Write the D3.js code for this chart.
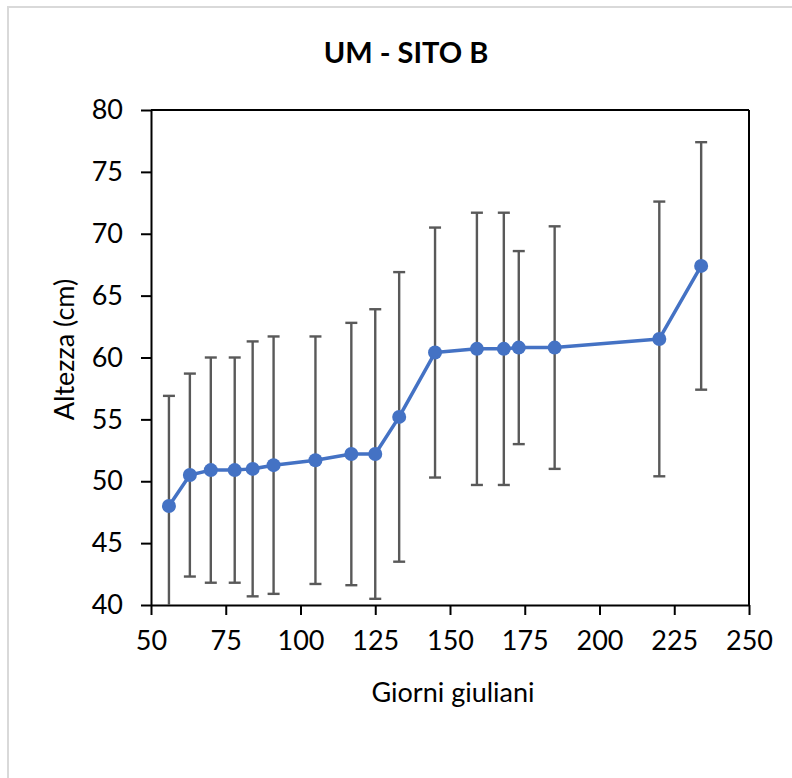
<!DOCTYPE html>
<html>
<head>
<meta charset="utf-8">
<script src="https://cdn.jsdelivr.net/npm/d3@7"></script>
<style>
  html, body { margin: 0; padding: 0; background: #fff; }
  svg { display: block; }
  text { font-family: Lato, "Open Sans", sans-serif; fill: #000; }
</style>
</head>
<body>
<script>
// ---- data ----
const days  = [56, 63, 70, 78, 84, 91, 105, 117, 125, 133, 145, 159, 168, 173, 185, 220, 234];
const meanHeight = [48.0, 50.5, 50.9, 50.9, 51.0, 51.3, 51.7, 52.2, 52.2, 55.2, 60.4, 60.7, 60.7, 60.8, 60.8, 61.5, 67.4];
const sdHeight   = [8.9, 8.2, 9.1, 9.1, 10.3, 10.4, 10.0, 10.6, 11.7, 11.7, 10.1, 11.0, 11.0, 7.8, 9.8, 11.1, 10.0];
const xTicks = [50, 75, 100, 125, 150, 175, 200, 225, 250];
const yTicks = [40, 45, 50, 55, 60, 65, 70, 75, 80];
const titleText = "UM - SITO B";
const xLabel = "Giorni giuliani";
const yLabel = "Altezza (cm)";

const W = 792, H = 778;
const plot = { left: 151, right: 749, top: 110, bottom: 605 };

const svg = d3.select("body").append("svg").attr("width", W).attr("height", H);

// outer chart border
svg.append("rect").attr("x", 8).attr("y", 7).attr("width", W + 10).attr("height", H + 10)
  .attr("fill", "#fff").attr("stroke", "#d9d9d9").attr("stroke-width", 2);

const x = d3.scaleLinear().domain([50, 250]).range([plot.left, plot.right]);
const y = d3.scaleLinear().domain([40, 80]).range([plot.bottom, plot.top]);

svg.append("defs").append("clipPath").attr("id", "clip")
  .append("rect").attr("x", plot.left).attr("y", plot.top)
  .attr("width", plot.right - plot.left).attr("height", plot.bottom - plot.top);

// title
svg.append("text").attr("x", 406).attr("y", 63).attr("text-anchor", "middle")
  .attr("font-size", 29).attr("font-weight", "bold").text(titleText);

// axes
const xAxis = d3.axisBottom(x).tickValues(xTicks).tickSize(10).tickPadding(16).tickSizeOuter(0);
const yAxis = d3.axisLeft(y).tickValues(yTicks).tickSize(10).tickPadding(18).tickSizeOuter(0);

const gx = svg.append("g").attr("transform", `translate(0,${plot.bottom})`).call(xAxis);
const gy = svg.append("g").attr("transform", `translate(${plot.left},0)`).call(yAxis);
[gx, gy].forEach(g => {
  g.select(".domain").attr("stroke", "#000").attr("stroke-width", 2);
  g.selectAll(".tick line").attr("stroke", "#000").attr("stroke-width", 2);
  g.selectAll(".tick text").attr("font-size", 27).attr("font-family", "Lato, 'Open Sans', sans-serif").attr("fill", "#000");
});

// top & right frame
svg.append("line").attr("x1", plot.left).attr("x2", plot.right).attr("y1", plot.top).attr("y2", plot.top)
  .attr("stroke", "#000").attr("stroke-width", 2);
svg.append("line").attr("x1", plot.right).attr("x2", plot.right).attr("y1", plot.top).attr("y2", plot.bottom)
  .attr("stroke", "#000").attr("stroke-width", 2);

// axis labels
svg.append("text").attr("x", 453).attr("y", 702).attr("text-anchor", "middle")
  .attr("font-size", 27).text(xLabel);
svg.append("text").attr("transform", `translate(74,${(plot.top + plot.bottom) / 2 - 8}) rotate(-90)`)
  .attr("text-anchor", "middle").attr("font-size", 27).text(yLabel);

const data = days.map((d, i) => ({ d, m: meanHeight[i], s: sdHeight[i] }));

// error bars
const eb = svg.append("g").attr("clip-path", "url(#clip)").attr("stroke", "#595959").attr("stroke-width", 2.4);
data.forEach(p => {
  const cx = x(p.d);
  eb.append("line").attr("x1", cx).attr("x2", cx).attr("y1", y(p.m - p.s)).attr("y2", y(p.m + p.s));
  eb.append("line").attr("x1", cx - 6).attr("x2", cx + 6).attr("y1", y(p.m + p.s)).attr("y2", y(p.m + p.s));
  eb.append("line").attr("x1", cx - 6).attr("x2", cx + 6).attr("y1", y(p.m - p.s)).attr("y2", y(p.m - p.s));
});

// line
svg.append("path").datum(data)
  .attr("d", d3.line().x(p => x(p.d)).y(p => y(p.m)))
  .attr("fill", "none").attr("stroke", "#4472C4").attr("stroke-width", 3.5).attr("stroke-linejoin", "round");

// markers
svg.append("g").selectAll("circle").data(data).join("circle")
  .attr("cx", p => x(p.d)).attr("cy", p => y(p.m)).attr("r", 7)
  .attr("fill", "#4472C4");
</script>
</body>
</html>
